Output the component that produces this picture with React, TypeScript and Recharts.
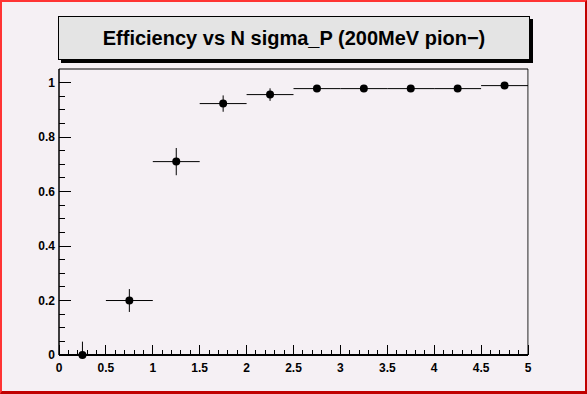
import { ComposedChart, ErrorBar, ReferenceArea, Scatter, XAxis, YAxis } from 'recharts';

const binCenters = [0.25, 0.75, 1.25, 1.75, 2.25, 2.75, 3.25, 3.75, 4.25, 4.75];
const efficiency = [0, 0.2, 0.71, 0.923, 0.956, 0.978, 0.978, 0.978, 0.978, 0.989];
const errorLow = [0, 0.042, 0.05, 0.03, 0.023, 0.008, 0.008, 0.008, 0.008, 0.006];
const errorHigh = [0.049, 0.042, 0.05, 0.03, 0.023, 0.008, 0.008, 0.008, 0.008, 0.006];
const binHalfWidths = [0.25, 0.25, 0.25, 0.25, 0.25, 0.25, 0.25, 0.25, 0.25, 0.25];

const xTicks = [
  0, 0.1, 0.2, 0.3, 0.4, 0.5, 0.6, 0.7, 0.8, 0.9,
  1, 1.1, 1.2, 1.3, 1.4, 1.5, 1.6, 1.7, 1.8, 1.9,
  2, 2.1, 2.2, 2.3, 2.4, 2.5, 2.6, 2.7, 2.8, 2.9,
  3, 3.1, 3.2, 3.3, 3.4, 3.5, 3.6, 3.7, 3.8, 3.9,
  4, 4.1, 4.2, 4.3, 4.4, 4.5, 4.6, 4.7, 4.8, 4.9, 5,
];
const yTicks = [
  0, 0.05, 0.1, 0.15, 0.2, 0.25, 0.3, 0.35, 0.4, 0.45,
  0.5, 0.55, 0.6, 0.65, 0.7, 0.75, 0.8, 0.85, 0.9, 0.95, 1,
];

const points = binCenters.map((x, i) => ({
  x,
  y: efficiency[i],
  ex: binHalfWidths[i],
  ey: [errorLow[i], errorHigh[i]],
}));

const LABEL_FONT = '"Liberation Sans", Arial, sans-serif';

const isMultiple = (v: number, step: number) => Math.abs(v / step - Math.round(v / step)) < 1e-6;

function XTick(props: any) {
  const { x, y, payload } = props;
  const v = payload.value as number;
  const major = isMultiple(v, 0.5);
  return (
    <g>
      <line x1={x} x2={x} y1={y} y2={y - (major ? 10 : 5)} stroke="#000" shapeRendering="crispEdges" />
      {major && (
        <text x={x} y={y + 17} textAnchor="middle" fontSize={12} fontWeight="bold" fontFamily={LABEL_FONT} fill="#000">
          {String(v)}
        </text>
      )}
    </g>
  );
}

function YTick(props: any) {
  const { x, y, payload } = props;
  const v = payload.value as number;
  const major = isMultiple(v, 0.2);
  return (
    <g>
      <line x1={x} x2={x + (major ? 12 : 6)} y1={y} y2={y} stroke="#000" shapeRendering="crispEdges" />
      {major && (
        <text x={x - 4} y={y + 4} textAnchor="end" fontSize={12} fontWeight="bold" fontFamily={LABEL_FONT} fill="#000">
          {String(v)}
        </text>
      )}
    </g>
  );
}

function Marker(props: any) {
  return <circle cx={props.cx} cy={props.cy} r={4} fill="#000" />;
}

export default function App() {
  return (
    <div style={{ position: 'absolute', left: 0, top: 0, width: 587, height: 394, background: '#f5f0f4' }}>
      <ComposedChart width={587} height={394} margin={{ top: 69, right: 59, bottom: 29, left: 49 }}>
        <XAxis
          type="number"
          dataKey="x"
          domain={[0, 5]}
          ticks={xTicks}
          interval={0}
          height={10}
          tickSize={0}
          tickMargin={0}
          tickLine={false}
          tick={(p: any) => <XTick {...p} />}
          axisLine={{ stroke: '#000', strokeWidth: 2 }}
        />
        <YAxis
          type="number"
          dataKey="y"
          domain={[0, 1.05]}
          ticks={yTicks}
          interval={0}
          width={10}
          tickSize={0}
          tickMargin={0}
          tickLine={false}
          tick={(p: any) => <YTick {...p} />}
          axisLine={{ stroke: '#000' }}
        />
        <ReferenceArea x1={0} x2={5} y1={0} y2={1.05} fill="none" stroke="#000" strokeOpacity={1} fillOpacity={0} />
        <ReferenceArea x1={5} x2={5.01} y1={0} y2={1.05} fill="#a0a0a0" fillOpacity={1} stroke="none" ifOverflow="visible" />
        <Scatter data={points} dataKey="y" shape={<Marker />} isAnimationActive={false}>
          <ErrorBar dataKey="ex" direction="x" width={0} stroke="#000" strokeWidth={1} />
          <ErrorBar dataKey="ey" direction="y" width={0} stroke="#000" strokeWidth={1} />
        </Scatter>
      </ComposedChart>
      <div
        style={{
          position: 'absolute',
          left: 58,
          top: 16,
          width: 472,
          height: 44,
          boxSizing: 'border-box',
          background: '#e4e4e4',
          border: '1px solid #000',
          boxShadow: '3px 3px 0 #000',
          display: 'flex',
          alignItems: 'center',
          justifyContent: 'center',
          fontFamily: LABEL_FONT,
          fontWeight: 'bold',
          fontSize: 20,
          color: '#000',
        }}
      >
        Efficiency vs N sigma_P (200MeV pion−)
      </div>
      <div
        style={{
          position: 'absolute',
          inset: 0,
          boxSizing: 'border-box',
          borderTop: '2px solid #ff3333',
          borderLeft: '2px solid #ff3333',
          borderRight: '2px solid #c00000',
          borderBottom: '3px solid #c00000',
          pointerEvents: 'none',
        }}
      />
    </div>
  );
}
